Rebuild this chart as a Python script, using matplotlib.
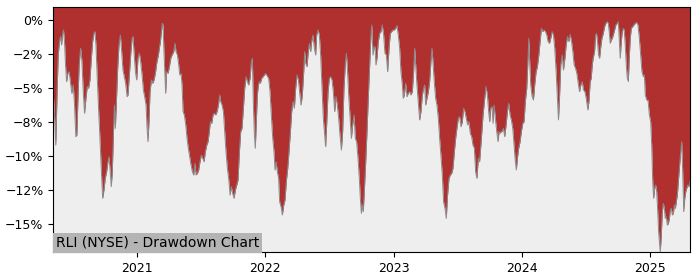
import numpy as np
import pandas as pd
import matplotlib
matplotlib.use("Agg")
import matplotlib.pyplot as plt
from matplotlib.dates import YearLocator, DateFormatter
from matplotlib.ticker import MultipleLocator, PercentFormatter

# RLI drawdown: position inside each year (fraction of year)
# and % below the running peak
frac_2020 = [.345, .355, .365, .376, .384, .394, .402, .410, .417, .425, .433, .441, .449, .459, .469,
             .480, .490, .501, .511, .521, .529, .537, .547, .558, .568, .579, .589, .600, .610, .620,
             .631, .641, .652, .662, .670, .678, .688, .698, .709, .719, .730, .740, .750, .761, .771,
             .779, .787, .797, .805, .813, .821, .829, .836, .847, .857, .868, .878, .888, .899, .909,
             .920, .927, .938, .948, .959, .966, .974, .985, .995]
dd_2020 = [-5.25, -6.97, -9.19, -5.01, -2.55, -1.56, -1.19, -1.81, -1.07, -0.70, -1.56, -3.28, -4.51, -3.90, -3.78,
           -4.64, -5.38, -4.76, -6.24, -8.57, -8.45, -5.99, -3.28, -2.05, -2.92, -5.25, -6.85, -5.74, -4.88, -5.01,
           -4.39, -2.92, -1.56, -0.95, -0.82, -1.81, -4.27, -6.48, -8.70, -10.91, -13.12, -12.51, -11.65, -11.16, -10.42,
           -10.05, -10.91, -12.26, -11.16, -8.70, -6.24, -7.96, -6.24, -3.53, -1.81, -1.07, -2.30, -3.65, -4.15, -4.64,
           -5.62, -5.50, -4.02, -2.55, -1.32, -1.19, -2.30, -3.78, -4.39]

frac_2021 = [.005, .016, .026, .037, .047, .057, .068, .076, .083, .091, .099, .110, .120, .130, .141,
             .151, .164, .180, .188, .195, .201, .206, .214, .221, .229, .240, .250, .261, .271, .284,
             .294, .302, .313, .323, .331, .341, .349, .357, .367, .378, .388, .398, .409, .419, .430,
             .440, .450, .458, .469, .479, .489, .500, .510, .521, .531, .542, .552, .562, .570, .581,
             .591, .601, .612, .622, .633, .643, .651, .661, .672, .682, .692, .703, .713, .724, .734,
             .744, .755, .765, .776, .786, .797, .807, .817, .828, .838, .849, .859, .869, .880, .890,
             .898, .906, .914, .921, .929, .937, .945, .953, .960, .971, .981, .992]
dd_2021 = [-2.79, -2.42, -3.04, -4.02, -5.13, -5.62, -6.24, -7.96, -8.94, -7.47, -5.25, -4.39, -4.64, -4.39, -3.90,
           -3.16, -2.55, -1.56, -0.82, -0.21, -0.33, -1.81, -3.78, -5.38, -3.78, -3.90, -3.41, -2.79, -2.55, -2.30,
           -1.69, -2.30, -2.55, -3.28, -4.02, -3.90, -4.76, -6.73, -6.97, -7.71, -8.70, -9.43, -10.05, -10.66, -11.16,
           -11.40, -10.54, -11.40, -11.28, -11.03, -10.42, -9.93, -10.17, -10.42, -9.68, -9.19, -8.94, -8.20, -7.47, -7.59,
           -6.97, -6.85, -6.97, -6.73, -6.24, -5.50, -5.99, -6.24, -6.73, -8.20, -9.68, -10.91, -11.65, -12.88, -12.26,
           -12.75, -13.12, -12.51, -12.14, -11.77, -9.68, -8.20, -7.96, -6.48, -5.01, -4.15, -4.51, -4.76, -4.27, -3.04,
           -2.79, -6.24, -8.45, -9.43, -7.47, -5.50, -4.76, -4.51, -4.64, -4.27, -4.15, -4.02]

frac_2022 = [.002, .025, .036, .046, .057, .067, .075, .083, .093, .103, .111, .122, .132, .143, .153,
             .163, .174, .184, .195, .205, .215, .226, .236, .247, .257, .267, .278, .288, .299, .306,
             .314, .325, .332, .343, .353, .361, .371, .382, .392, .400, .411, .421, .431, .442, .452,
             .463, .470, .478, .489, .499, .509, .520, .530, .541, .551, .561, .572, .582, .593, .603,
             .613, .624, .632, .640, .650, .660, .671, .681, .692, .702, .712, .723, .733, .741, .749,
             .757, .764, .772, .783, .793, .803, .814, .824, .830, .840, .847, .855, .863, .871, .881,
             .892, .902, .912, .923, .933, .944, .954, .965, .975, .985, .996]
dd_2022 = [-3.90, -4.27, -5.25, -6.97, -8.70, -9.68, -11.03, -10.42, -11.16, -11.65, -13.37, -13.74, -14.35, -13.61, -13.24,
           -11.89, -10.91, -9.68, -8.20, -6.73, -5.99, -6.48, -5.01, -4.02, -4.39, -5.25, -6.24, -5.50, -3.78, -2.30,
           -3.16, -3.41, -2.55, -1.69, -2.30, -1.56, -1.07, -2.05, -2.55, -1.07, -0.70, -1.07, -2.55, -5.01, -7.22,
           -8.45, -9.31, -7.71, -5.25, -4.27, -4.15, -4.39, -5.25, -6.73, -5.62, -6.24, -7.22, -8.45, -9.56, -8.20,
           -5.01, -3.16, -2.42, -3.53, -5.50, -6.97, -8.70, -7.71, -6.97, -8.70, -8.94, -10.17, -11.65, -13.12, -14.23,
           -13.61, -14.10, -12.63, -10.42, -8.20, -5.74, -3.28, -1.07, -0.33, -2.55, -2.05, -1.93, -3.28, -2.79, -1.56,
           -0.95, -0.82, -0.33, -1.07, -2.42, -2.55, -3.78, -2.05, -0.95, -0.82, -0.70]

frac_2023 = [.006, .017, .027, .037, .048, .058, .069, .076, .084, .095, .105, .115, .126, .136, .147,
             .157, .165, .173, .183, .193, .204, .214, .225, .235, .243, .251, .261, .272, .282, .292,
             .300, .308, .318, .329, .339, .350, .360, .370, .381, .391, .402, .412, .422, .433, .443,
             .454, .464, .475, .485, .495, .506, .516, .527, .537, .547, .558, .568, .579, .589, .599,
             .610, .620, .631, .641, .651, .662, .672, .686, .699, .712, .722, .733, .743, .751, .759,
             .769, .777, .785, .795, .806, .816, .824, .832, .840, .847, .858, .868, .879, .889, .899,
             .910, .920, .931, .941, .951, .959, .967, .977, .988, .998]
dd_2023 = [-0.70, -0.58, -0.38, -1.07, -2.05, -3.78, -4.76, -5.74, -5.50, -4.64, -5.62, -5.38, -5.25, -5.50, -5.25,
           -3.78, -2.05, -3.28, -4.76, -5.99, -7.34, -6.73, -5.50, -5.01, -4.76, -6.24, -5.74, -5.25, -4.51, -3.04,
           -2.05, -3.04, -4.51, -5.74, -6.24, -7.22, -8.70, -9.93, -11.40, -13.37, -13.86, -14.60, -12.88, -11.65, -11.40,
           -11.28, -10.91, -9.68, -8.70, -7.96, -7.22, -7.10, -7.84, -7.47, -6.48, -6.73, -7.22, -7.71, -7.47, -8.33,
           -8.57, -9.19, -9.43, -11.16, -11.65, -10.17, -10.42, -8.70, -6.97, -5.74, -4.88, -5.50, -6.73, -7.47, -6.48,
           -6.36, -7.59, -6.24, -7.22, -8.20, -8.94, -8.20, -8.33, -8.20, -8.20, -7.96, -8.57, -7.71, -6.73, -6.11,
           -6.97, -7.34, -7.96, -9.19, -10.42, -11.03, -10.17, -9.43, -8.94, -8.20]

frac_2024 = [.009, .019, .029, .040, .048, .056, .063, .071, .082, .092, .102, .113, .123, .134, .144,
             .154, .165, .175, .186, .196, .206, .217, .227, .238, .248, .258, .269, .279, .287, .295,
             .305, .316, .326, .337, .347, .357, .368, .378, .389, .399, .409, .420, .430, .441, .451,
             .461, .472, .482, .493, .503, .516, .524, .534, .542, .550, .557, .568, .576, .583, .591,
             .599, .607, .615, .625, .636, .646, .656, .667, .675, .682, .690, .698, .706, .714, .724,
             .734, .745, .753, .760, .768, .776, .784, .792, .799, .807, .815, .823, .831, .838, .846,
             .854, .864, .875, .885, .896, .906, .917, .927, .937, .948, .956, .963, .974, .984, .995]
dd_2024 = [-7.59, -7.47, -5.99, -5.01, -3.28, -1.32, -3.04, -4.76, -5.62, -5.87, -4.76, -3.78, -3.41, -2.55, -1.56,
           -0.58, -0.82, -0.70, -0.82, -1.07, -1.56, -1.69, -1.32, -0.82, -1.07, -2.05, -3.78, -5.74, -7.34, -5.74,
           -3.28, -2.55, -3.65, -2.79, -1.81, -1.19, -1.56, -1.02, -1.56, -2.30, -3.28, -3.53, -3.90, -4.64, -5.25,
           -4.76, -4.51, -5.13, -5.25, -5.74, -6.60, -5.99, -4.51, -4.27, -3.28, -2.79, -2.30, -1.07, -0.95, -1.56,
           -2.55, -2.79, -2.05, -1.32, -0.95, -0.46, -0.21, -0.09, -0.21, -0.82, -1.69, -1.44, -1.32, -1.07, -0.70,
           -0.33, -0.21, -0.09, -1.32, -2.79, -1.56, -0.82, -0.58, -0.70, -1.81, -3.28, -4.27, -4.51, -2.79, -1.32,
           -0.58, -0.46, -0.33, -0.21, -0.14, -0.33, -1.32, -2.55, -3.78, -4.15, -4.02, -5.50, -5.87, -5.87, -6.97]

frac_2025 = [.005, .013, .021, .028, .036, .044, .052, .060, .067, .075, .080, .088, .096, .104, .112,
             .119, .127, .135, .143, .151, .158, .166, .174, .182, .190, .198, .205, .213, .221, .229,
             .237, .247, .255, .263, .271, .279, .286, .294, .302, .312]
dd_2025 = [-7.47, -9.19, -11.89, -13.12, -12.39, -12.14, -12.63, -14.10, -15.58, -16.57, -17.06, -15.83, -14.10, -13.49, -13.86,
           -14.60, -14.48, -15.09, -14.97, -14.60, -13.99, -13.86, -14.35, -14.23, -13.61, -13.86, -13.37, -12.88, -11.89, -10.91,
           -9.93, -8.94, -11.16, -14.10, -13.12, -12.63, -12.39, -12.14, -12.26, -11.89]

years = [2020, 2021, 2022, 2023, 2024, 2025]
fracs = [frac_2020, frac_2021, frac_2022, frac_2023, frac_2024, frac_2025]
dds = [dd_2020, dd_2021, dd_2022, dd_2023, dd_2024, dd_2025]


def to_dates(year, frac):
    start = pd.Timestamp(year=year, month=1, day=1)
    ndays = 366 if year % 4 == 0 else 365
    return start + pd.to_timedelta(np.array(frac) * ndays, unit="D")


dates = pd.DatetimeIndex(np.concatenate([to_dates(y, f) for y, f in zip(years, fracs)]))
drawdown = np.concatenate([np.array(d) for d in dds])

y_top = 0.97
y_bottom = -17.1

fig = plt.figure(figsize=(7, 2.8), dpi=100)
ax = fig.add_axes([0.076, 0.099, 0.9097, 0.875])
ax.set_facecolor("#eeeeee")

ax.fill_between(dates, drawdown, y_top, color="#b02f2f", lw=0)
ax.plot(dates, drawdown, color="#8a8a8a", lw=0.7)

ax.set_xlim(dates[0], dates[-1])
ax.set_ylim(y_bottom, y_top)

ax.yaxis.set_major_locator(MultipleLocator(2.5))
ax.yaxis.set_major_formatter(PercentFormatter(xmax=100, decimals=0))
ax.xaxis.set_major_locator(YearLocator())
ax.xaxis.set_major_formatter(DateFormatter("%Y"))
ax.tick_params(labelsize=9)

ax.text(0.004, 0.01, "RLI (NYSE) - Drawdown Chart", transform=ax.transAxes,
        fontsize=10, ha="left", va="bottom",
        bbox=dict(boxstyle="square,pad=0.2", facecolor="#b4b4b4", edgecolor="none"))

fig.savefig("out.png", dpi=100)
